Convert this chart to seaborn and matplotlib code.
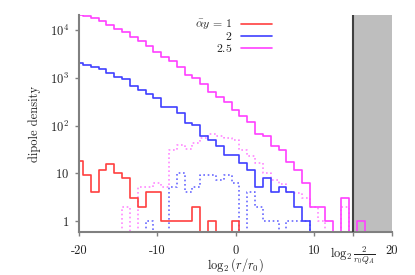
import numpy as np
import pandas as pd
import matplotlib
matplotlib.use("Agg")
import matplotlib.pyplot as plt
import seaborn as sns

# bin centres of log2(r/r0), width 1
bins = list(range(-20, 18))

# alpha_bar*y = 2.5 (solid)
mag_solid = [20900, 19900, 17800, 15500, 12900, 10900, 9100, 7300, 6050, 4670,
             3550, 2780, 2290, 1700, 1150, 980, 760, 505, 398, 308,
             212, 161, 121, 66, 62, 38, 31, 17.5, 12, 6.2,
             2, 2, 1, 0, 3, 0, 1, 0]
# alpha_bar*y = 2 (solid)
blue_solid = [2020, 1910, 1720, 1540, 1260, 1040, 935, 690, 565, 458,
              387, 250, 246, 188, 113, 106, 60, 51, 38, 24,
              24, 16.5, 12, 5.1, 7.9, 4.1, 5.1, 4.1, 2, 1,
              0, 0, 0, 0, 0, 0, 0, 0]
# alpha_bar*y = 1 (solid)
red_solid = [18, 9.2, 4, 12, 15.5, 10, 7.9, 3, 2, 4,
             4, 1, 1, 1, 1, 2, 0, 1, 0, 0,
             1, 0, 0, 0, 0, 0, 0, 0, 0, 0,
             0, 0, 0, 0, 0, 0, 0, 0]
# alpha_bar*y = 2.5 (dotted)
mag_dotted = [0, 0, 0, 0, 0, 0, 2, 0, 5.1, 5.1,
              6.2, 5.1, 31, 39, 33, 43, 54, 68, 62, 54,
              49, 31, 23, 16.6, 10, 7.2, 6, 4.1, 3.8, 3,
              2, 1, 0, 0, 2, 0, 0, 0]
# alpha_bar*y = 2 (dotted)
blue_dotted = [0, 0, 0, 0, 0, 0, 0, 0, 0, 1,
               0, 0, 5.1, 10, 4, 5.1, 9.2, 9.2, 7.2, 9.2,
               6.2, 0, 4.1, 2, 1, 1, 0, 1, 1, 1,
               0, 0, 0, 0, 0, 0, 0, 0]

cutoff = 15  # log2(2/(r0 Q_A))
xticks = [-20, -10, 0, 10, cutoff, 20]
xticklabels = [r"-20", r"-10", r"0", r"10", r"$\log_2\frac{2}{r_0Q_A}$", r"20"]
yticks = [1, 10, 100, 1000, 10000]
yticklabels = [r"$1$", r"$10$", r"$10^2$", r"$10^3$", r"$10^4$"]
legend_labels = [r"$\bar{\alpha}y\,=\,1$", r"$2$", r"$2.5$"]

sns.set_style("ticks")
plt.rcParams["font.family"] = ["cmr10", "DejaVu Serif"]
plt.rcParams["mathtext.fontset"] = "cm"
plt.rcParams["axes.formatter.use_mathtext"] = True

fig = plt.figure(figsize=(4.15, 2.75), dpi=100)
ax = fig.add_axes([79 / 415, 43 / 275, 313 / 415, 217 / 275])
ax.set_yscale("log")

TINY = 1e-3
def prep(vals):
    v = np.asarray(vals, dtype=float)
    return np.where(v > 0, v, TINY)

series = [
    (mag_dotted, "#ff88ff", (0, (1, 1.6))),
    (blue_dotted, "#6a6aff", (0, (1, 1.6))),
    (red_solid, "#ff4040", "-"),
    (blue_solid, "#4040ff", "-"),
    (mag_solid, "#ff40ff", "-"),
]
for vals, col, ls in series:
    df = pd.DataFrame({"x": bins, "y": prep(vals)})
    sns.lineplot(data=df, x="x", y="y", ax=ax, color=col, linewidth=1.2,
                 drawstyle="steps-mid", linestyle=ls, estimator=None, sort=True)

ax.axvspan(cutoff, 20, color="#bebebe", zorder=0, lw=0)
ax.axvline(cutoff, color="#404040", lw=1.5, zorder=3)

ax.set_xlim(-20, 20)
ax.set_ylim(0.59, 2.1e4)
ax.set_xticks(xticks)
ax.set_xticklabels(xticklabels)
ax.set_yticks(yticks)
ax.set_yticklabels(yticklabels)
ax.minorticks_off()
ax.tick_params(axis="both", labelsize=9, color="#808080", length=3, width=1,
               labelcolor="#222222", pad=4)
ax.tick_params(axis="x", pad=6)
for s in ["top", "right"]:
    ax.spines[s].set_visible(False)
for s in ["left", "bottom"]:
    ax.spines[s].set_color("#808080")
    ax.spines[s].set_linewidth(1.5)

ax.set_xlabel(r"$\log_2(r/r_0)$", fontsize=9, color="#222222")
ax.xaxis.set_label_coords(0.5, -0.152)
ax.xaxis.label.set_verticalalignment("center")
ax.set_ylabel("dipole density", fontsize=9, color="#222222")
ax.yaxis.set_label_coords(-0.121, 0.5)

# legend (gnuplot-like: right-aligned text, key to the right)
leg_cols = ["#ff4040", "#4040ff", "#ff40ff"]
leg_y = [0.959, 0.903, 0.848]
for lab, c, yy in zip(legend_labels, leg_cols, leg_y):
    ax.text(0.489, yy, lab, transform=ax.transAxes, ha="right", va="center",
            fontsize=8.5, color="#222222")
    ax.plot([0.518, 0.617], [yy, yy], transform=ax.transAxes, color=c, lw=1.2)

fig.savefig("out.png", dpi=100)
